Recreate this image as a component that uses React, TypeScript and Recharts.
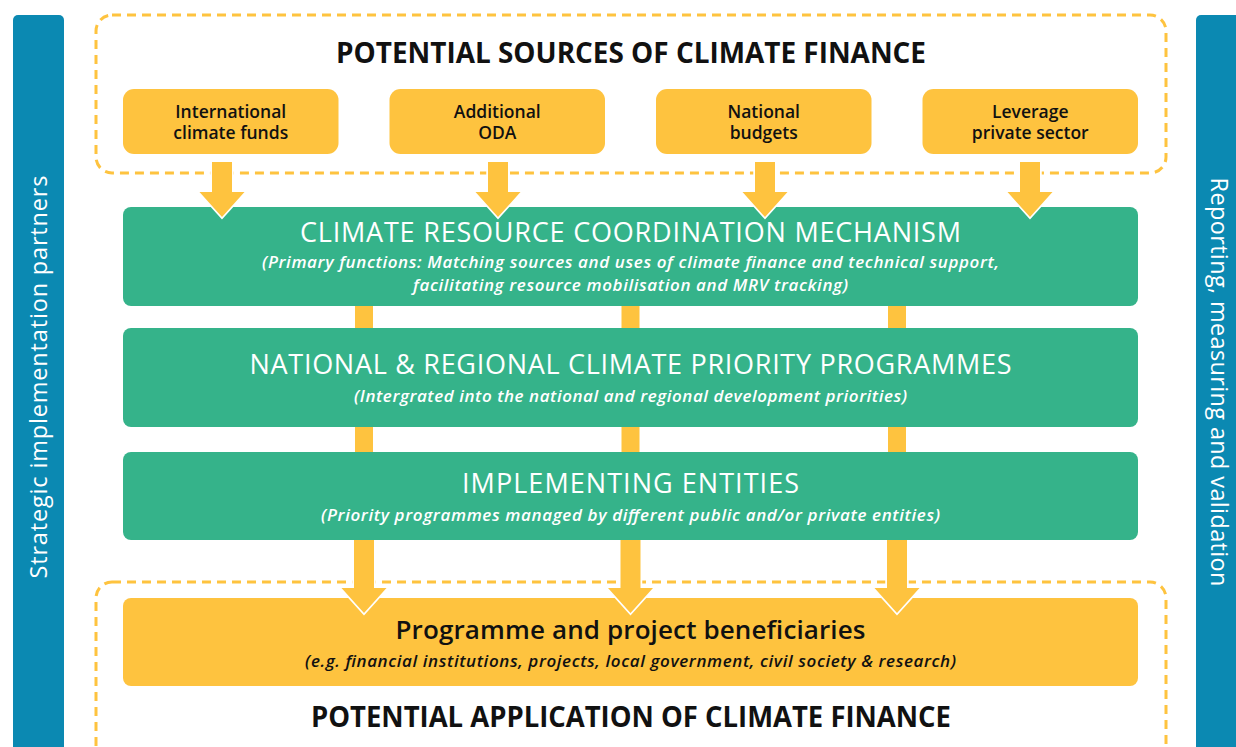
import { ComposedChart, XAxis, YAxis, ReferenceArea } from 'recharts';

// Climate finance flow diagram, drawn on a 1:1 number grid so each box goes through the axis scales.

const W = 1236;
const H = 747;

const SOURCE_TITLE = 'POTENTIAL SOURCES OF CLIMATE FINANCE';
const APPLICATION_TITLE = 'POTENTIAL APPLICATION OF CLIMATE FINANCE';
const SOURCES = [
  ['International', 'climate funds'],
  ['Additional', 'ODA'],
  ['National', 'budgets'],
  ['Leverage', 'private sector'],
];
const LAYER_TITLES = [
  'CLIMATE RESOURCE COORDINATION MECHANISM',
  'NATIONAL & REGIONAL CLIMATE PRIORITY PROGRAMMES',
  'IMPLEMENTING ENTITIES',
];
const LAYER_NOTES = [
  ['(Primary functions: Matching sources and uses of climate finance and technical support,', 'facilitating resource mobilisation and MRV tracking)'],
  ['(Intergrated into the national and regional development priorities)'],
  ['(Priority programmes managed by different public and/or private entities)'],
];
const BENEFICIARY_TITLE = 'Programme and project beneficiaries';
const BENEFICIARY_NOTE = '(e.g. financial institutions, projects, local government, civil society & research)';
const SIDE_LABELS = ['Strategic implementation partners', 'Reporting, measuring and validation'];

// layout (grid units == px)
const LEFT = 123, RIGHT = 1138, GAP = 51;
const SRC_W = (RIGHT - LEFT - GAP * 3) / 4;
const SRC_Y: [number, number] = [89, 154];
const LAYER_Y: [number, number][] = [[207, 306], [328, 427], [452, 540]];
const LAYER_TEXT = [[35, 61, 84], [46, 74], [41, 69]];
const LAYER_TITLE_LEN = [661, 762, 337];
const LAYER_NOTE_LEN = [[737, 435], [553], [619]];
const BEN_Y: [number, number] = [598, 686];
const MID = (LEFT + RIGHT) / 2;
const PIPES = [MID - 266.5, MID, MID + 266.5];
const SRC_ARROWS = [222, 498, 765, 1030];

const YELLOW = '#FEC33F';
const GREEN = '#35B38A';
const BLUE = '#0B89B2';
const FONT = '"Open Sans", sans-serif';

const Arrow = (p: any) => {
  const { x, y, width: w, height: h } = p;
  const cx = x + w / 2, sw = 20, hy = y + h - 25;
  const pts = [[cx - sw / 2, y], [cx + sw / 2, y], [cx + sw / 2, hy], [x + w, hy], [cx, y + h], [x, hy], [cx - sw / 2, hy]];
  const edge = pts.slice(1).concat([pts[0]]).map((q, i) => `${i ? 'L' : 'M'}${q[0]},${q[1]}`).join(' ');
  return (
    <g>
      <path d={edge} fill="none" stroke="#fff" strokeWidth={3.5} strokeLinejoin="miter" />
      <polygon points={pts.map(q => q.join(',')).join(' ')} fill={YELLOW} />
    </g>
  );
};

const Dashed = (title: string, dy: number, len: number) => (p: any) => (
  <g>
    <rect x={p.x} y={p.y} width={p.width} height={p.height} rx={16} fill="none"
      stroke={YELLOW} strokeWidth={3} strokeDasharray="9 6" />
    <text x={p.x + p.width / 2} y={p.y + dy} textAnchor="middle" fontFamily={FONT} fontWeight={700}
      fontSize={28} fill="#111" textLength={len} lengthAdjust="spacingAndGlyphs">{title}</text>
  </g>
);

const SourceBox = (lines: string[]) => (p: any) => (
  <g>
    <rect x={p.x} y={p.y} width={p.width} height={p.height} rx={11} fill={YELLOW} />
    {lines.map((l, i) => (
      <text key={i} x={p.x + p.width / 2} y={p.y + 29 + i * 21} textAnchor="middle" fontFamily={FONT}
        fontWeight={600} fontSize={17.5} fill="#111">{l}</text>
    ))}
  </g>
);

const LayerBox = (i: number) => (p: any) => (
  <g>
    <rect x={p.x} y={p.y} width={p.width} height={p.height} rx={8} fill={GREEN} />
    <text x={p.x + p.width / 2} y={p.y + LAYER_TEXT[i][0]} textAnchor="middle" fontFamily={FONT} fontSize={27}
      fill="#fff" textLength={LAYER_TITLE_LEN[i]} lengthAdjust="spacing">{LAYER_TITLES[i]}</text>
    {LAYER_NOTES[i].map((n, j) => (
      <text key={j} x={p.x + p.width / 2} y={p.y + LAYER_TEXT[i][j + 1]} textAnchor="middle" fontFamily={FONT}
        fontStyle="italic" fontWeight={600} fontSize={17} fill="#fff"
        textLength={LAYER_NOTE_LEN[i][j]} lengthAdjust="spacing">{n}</text>
    ))}
  </g>
);

const BeneficiaryBox = (p: any) => (
  <g>
    <rect x={p.x} y={p.y} width={p.width} height={p.height} rx={8} fill={YELLOW} />
    <text x={p.x + p.width / 2} y={p.y + 41} textAnchor="middle" fontFamily={FONT} fontWeight={600}
      fontSize={26} fill="#111" textLength={470} lengthAdjust="spacing">{BENEFICIARY_TITLE}</text>
    <text x={p.x + p.width / 2} y={p.y + 69} textAnchor="middle" fontFamily={FONT} fontStyle="italic"
      fontWeight={600} fontSize={17} fill="#111" textLength={651} lengthAdjust="spacing">{BENEFICIARY_NOTE}</text>
  </g>
);

const SideBar = (label: string, side: 'left' | 'right', len: number, cy: number) => (p: any) => {
  const base = side === 'left' ? p.x + 34 : p.x + 15;
  return (
    <g>
      <rect x={p.x} y={p.y} width={p.width} height={p.height} rx={5} fill={BLUE} />
      <text x={0} y={0} textAnchor="middle" fontFamily={FONT} fontSize={23.5} fill="#fff"
        textLength={len} lengthAdjust="spacing"
        transform={`translate(${base},${cy}) rotate(${side === 'left' ? -90 : 90})`}>
        {label}
      </text>
    </g>
  );
};

export default function App() {
  return (
    <div style={{ position: 'absolute', left: 0, top: 0, background: '#fff' }}>
      <ComposedChart width={W} height={H} margin={{ top: 0, right: 0, bottom: 0, left: 0 }}>
        <XAxis type="number" dataKey="x" domain={[0, W]} allowDataOverflow hide />
        <YAxis type="number" domain={[0, H]} allowDataOverflow reversed hide />

        <ReferenceArea x1={13} x2={64} y1={15} y2={770} ifOverflow="visible" shape={SideBar(SIDE_LABELS[0], 'left', 403, 377)} />
        <ReferenceArea x1={1196} x2={1260} y1={15} y2={770} ifOverflow="visible" shape={SideBar(SIDE_LABELS[1], 'right', 409, 382)} />

        <ReferenceArea x1={96} x2={1166} y1={15} y2={173} ifOverflow="visible" shape={Dashed(SOURCE_TITLE, 48, 590)} />
        <ReferenceArea x1={96} x2={1166} y1={582} y2={790} ifOverflow="visible" shape={Dashed(APPLICATION_TITLE, 145, 640)} />

        {SOURCES.map((s, i) => (
          <ReferenceArea key={'s' + i} x1={LEFT + i * (SRC_W + GAP)} x2={LEFT + i * (SRC_W + GAP) + SRC_W}
            y1={SRC_Y[0]} y2={SRC_Y[1]} ifOverflow="visible" shape={SourceBox(s)} />
        ))}

        {PIPES.map((px, i) => (
          <ReferenceArea key={'p' + i} x1={px - 9} x2={px + 9} y1={LAYER_Y[0][0] + 20} y2={LAYER_Y[2][0] + 20}
            ifOverflow="visible" fill={YELLOW} fillOpacity={1} stroke="none" />
        ))}

        {LAYER_TITLES.map((t, i) => (
          <ReferenceArea key={'l' + i} x1={LEFT} x2={RIGHT} y1={LAYER_Y[i][0]} y2={LAYER_Y[i][1]}
            ifOverflow="visible" shape={LayerBox(i)} />
        ))}

        {SRC_ARROWS.map((ax, i) => (
          <ReferenceArea key={'a' + i} x1={ax - 22.5} x2={ax + 22.5} y1={162} y2={217} ifOverflow="visible" shape={Arrow} />
        ))}

        <ReferenceArea x1={LEFT} x2={RIGHT} y1={BEN_Y[0]} y2={BEN_Y[1]} ifOverflow="visible" shape={BeneficiaryBox} />

        {PIPES.map((px, i) => (
          <ReferenceArea key={'b' + i} x1={px - 22.5} x2={px + 22.5} y1={LAYER_Y[2][1]} y2={613} ifOverflow="visible" shape={Arrow} />
        ))}
      </ComposedChart>
    </div>
  );
}
